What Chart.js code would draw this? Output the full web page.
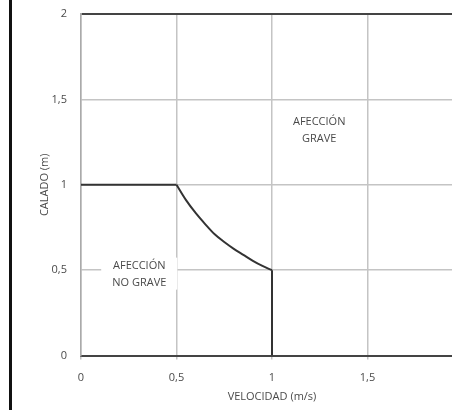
<!DOCTYPE html>
<html>
<head>
<meta charset="utf-8">
<script src="https://cdn.jsdelivr.net/npm/chart.js@4/dist/chart.umd.min.js"></script>
<style>
  html, body { margin: 0; padding: 0; background: #fff; overflow: hidden; width: 452px; height: 410px; }
  #wrap { position: absolute; left: 0; top: 0; width: 480px; height: 410px; }
  #edge { position: absolute; left: 9px; top: 0; width: 3px; height: 410px; background: #111; }
</style>
</head>
<body>
<div id="wrap"><canvas id="calado" width="480" height="410"></canvas></div>
<div id="edge"></div>
<script>
// boundary between "no grave" and "grave" (velocidad m/s, calado m)
const velocidad = [0, 0.5, 0.55, 0.6, 0.65, 0.7, 0.75, 0.8, 0.85, 0.9, 0.95, 1, 1];
const calado    = [1, 1, 0.91, 0.835, 0.77, 0.71, 0.665, 0.625, 0.59, 0.555, 0.525, 0.5, 0];

const xTicks = [0, 0.5, 1, 1.5, 2];
const yTicks = [0, 0.5, 1, 1.5, 2];
const tickText = ["0", "0,5", "1", "1,5", "2"];

const zoneNames = [["AFECCIÓN", "GRAVE"], ["AFECCIÓN", "NO GRAVE"]];
const zoneV = [1.247, 0.305];
const zoneH = [1.32, 0.48];

const points = velocidad.map(function(v, i) { return { x: v, y: calado[i] }; });
// flat part, curved part, vertical part
const tramos = [points.slice(0, 2), points.slice(1, 12), points.slice(11)];

const zoneLabels = {
  id: "zoneLabels",
  afterDatasetsDraw: function(chart) {
    const ctx = chart.ctx;
    const xs = chart.scales.x, ys = chart.scales.y;
    ctx.save();
    ctx.font = "11px 'Open Sans'";
    ctx.textAlign = "center";
    ctx.textBaseline = "middle";
    zoneNames.forEach(function(lines, i) {
      const px = xs.getPixelForValue(zoneV[i]);
      const py = ys.getPixelForValue(zoneH[i]);
      let w = 0;
      lines.forEach(function(t) { w = Math.max(w, ctx.measureText(t).width); });
      ctx.fillStyle = "#fff";
      ctx.fillRect(px - w / 2 - 11, py - 16, w + 22, 32);
      ctx.fillStyle = "#4a4a4a";
      ctx.fillText(lines[0], px, py - 8);
      ctx.fillText(lines[1], px, py + 9);
    });
    ctx.restore();
  }
};

Chart.defaults.font.family = "'Open Sans'";
Chart.defaults.font.size = 11;
Chart.defaults.color = "#4a4a4a";

new Chart("calado", {
  type: "scatter",
  data: {
    datasets: tramos.map(function(t, i) {
      return {
        data: t,
        showLine: true,
        borderColor: "#333",
        borderWidth: 2,
        pointRadius: 0,
        cubicInterpolationMode: i === 1 ? "monotone" : "default"
      };
    })
  },
  options: {
    responsive: false,
    animation: false,
    layout: { padding: { top: 14, right: 17, left: 29, bottom: 5 } },
    plugins: { legend: { display: false }, tooltip: { enabled: false } },
    scales: {
      x: {
        type: "linear",
        min: 0, max: 2,
        afterBuildTicks: function(s) { s.ticks = xTicks.map(function(v) { return { value: v }; }); },
        ticks: {
          padding: 12,
          callback: function(v) { return tickText[xTicks.indexOf(v)]; }
        },
        grid: { color: "#c4c4c4", lineWidth: 1.5, tickLength: 4 },
        border: { color: "#444", width: 2 },
        title: { display: true, text: "VELOCIDAD (m/s)", padding: { top: -7, bottom: 2 } }
      },
      y: {
        type: "linear",
        min: 0, max: 2,
        afterBuildTicks: function(s) { s.ticks = yTicks.map(function(v) { return { value: v }; }); },
        afterFit: function(s) { s.width = 52; s.paddingTop = 0; },
        ticks: {
          padding: 14,
          callback: function(v) { return tickText[yTicks.indexOf(v)]; }
        },
        grid: {
          color: function(c) { return c.tick && c.tick.value === 2 ? "#444" : "#c4c4c4"; },
          lineWidth: function(c) { return c.tick && c.tick.value === 2 ? 2 : 1.5; },
          tickLength: 0
        },
        border: { color: "#aaa", width: 1.5 },
        title: { display: true, text: "CALADO (m)", padding: { top: 9, bottom: 2 } }
      }
    }
  },
  plugins: [zoneLabels]
});
</script>
</body>
</html>
